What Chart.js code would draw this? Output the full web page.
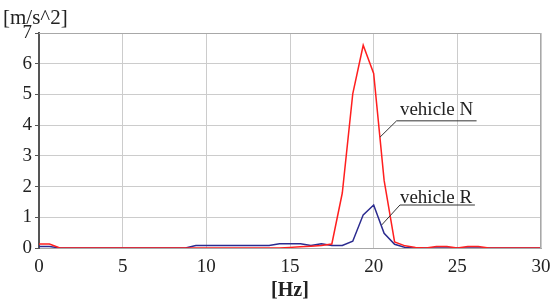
<!DOCTYPE html>
<html>
<head>
<meta charset="utf-8">
<script src="https://cdn.jsdelivr.net/npm/chart.js@4.4.0/dist/chart.umd.min.js"></script>
<style>
  html, body { margin: 0; padding: 0; background: #fff; }
  #wrap { width: 551px; height: 301px; position: relative; }
</style>
</head>
<body>
<div id="wrap"><canvas id="c"></canvas></div>
<script>
// frequency bins [Hz]
const freq = [0, 0.625, 1.25, 1.875, 2.5, 3.125, 3.75, 4.375, 5, 5.625, 6.25, 6.875,
  7.5, 8.125, 8.75, 9.375, 10, 10.625, 11.25, 11.875, 12.5, 13.125, 13.75, 14.375,
  15, 15.625, 16.25, 16.875, 17.5, 18.125, 18.75, 19.375, 20, 20.625, 21.25, 21.875,
  22.5, 23.125, 23.75, 24.375, 25, 25.625, 26.25, 26.875, 27.5, 28.125, 28.75, 29.375, 30];

// vehicle N (red)
const vehicleN = [0.13, 0.13, 0, 0, 0, 0, 0, 0, 0, 0, 0, 0,
  0, 0, 0, 0, 0, 0, 0, 0, 0, 0, 0, 0,
  0.02, 0.04, 0.06, 0.08, 0.13, 1.79, 5.02, 6.6, 5.68, 2.2, 0.2, 0.07,
  0.02, 0, 0.05, 0.05, 0, 0.05, 0.05, 0, 0, 0, 0, 0, 0];

// vehicle R (blue)
const vehicleR = [0.05, 0.05, 0, 0, 0, 0, 0, 0, 0, 0, 0, 0,
  0, 0, 0, 0.08, 0.08, 0.08, 0.08, 0.08, 0.08, 0.08, 0.08, 0.14,
  0.14, 0.14, 0.08, 0.14, 0.08, 0.08, 0.22, 1.08, 1.4, 0.48, 0.12, 0.02,
  0, 0, 0, 0, 0, 0, 0, 0, 0, 0, 0, 0, 0];

const xTicks = [0, 5, 10, 15, 20, 25, 30];
const yTicks = [0, 1, 2, 3, 4, 5, 6, 7];

// callout labels (data units): text pos, corner of leader, end on the curve, end of underline
const callouts = [
  { text: 'vehicle N', tx: 21.57, ty: 4.33, cx: 21.37, cy: 4.14, ex: 20.38, ey: 3.61, ux: 26.15 },
  { text: 'vehicle R', tx: 21.57, ty: 1.47, cx: 21.57, cy: 1.40, ex: 20.48, ey: 0.75, ux: 26.05 }
];

const serif = "'Liberation Serif', 'DejaVu Serif', serif";

const pairs = (xs, ys) => xs.map((x, i) => ({ x: x, y: ys[i] }));

// 단위 라벨과 콜아웃 그리기
const extras = {
  id: 'extras',
  afterDatasetsDraw(chart) {
    const ctx = chart.ctx;
    const xs = chart.scales.x, ys = chart.scales.y;
    const a = chart.chartArea;
    ctx.save();
    // frame top/right
    ctx.strokeStyle = '#a8a8a8';
    ctx.lineWidth = 1;
    ctx.beginPath();
    ctx.moveTo(a.left, a.top + 0.5);
    ctx.lineTo(a.right - 0.5, a.top + 0.5);
    ctx.lineTo(a.right - 0.5, a.bottom);
    ctx.stroke();

    ctx.font = '19px ' + serif;
    ctx.fillStyle = '#222';
    ctx.textBaseline = 'alphabetic';
    ctx.textAlign = 'left';
    callouts.forEach(c => {
      ctx.fillText(c.text, xs.getPixelForValue(c.tx), ys.getPixelForValue(c.ty));
      ctx.strokeStyle = '#333';
      ctx.lineWidth = 1;
      ctx.beginPath();
      ctx.moveTo(xs.getPixelForValue(c.ex), ys.getPixelForValue(c.ey));
      ctx.lineTo(xs.getPixelForValue(c.cx), ys.getPixelForValue(c.cy));
      ctx.lineTo(xs.getPixelForValue(c.ux), ys.getPixelForValue(c.cy));
      ctx.stroke();
    });

    // y unit
    ctx.font = '21px ' + serif;
    ctx.fillText('[m/s^2]', 3, 24);
    ctx.restore();
  }
};

new Chart(document.getElementById('c'), {
  type: 'line',
  data: {
    datasets: [
      {
        label: 'vehicle N',
        data: pairs(freq, vehicleN),
        borderColor: '#ff1f1f',
        borderWidth: 1.5,
        pointRadius: 0,
        tension: 0
      },
      {
        label: 'vehicle R',
        data: pairs(freq, vehicleR),
        borderColor: '#2b2b8f',
        borderWidth: 1.5,
        pointRadius: 0,
        tension: 0
      }
    ]
  },
  options: {
    responsive: true,
    maintainAspectRatio: false,
    animation: false,
    layout: { padding: { top: 33, right: 10, left: 0, bottom: 0 } },
    plugins: { legend: { display: false }, tooltip: { enabled: false } },
    scales: {
      x: {
        type: 'linear',
        min: 0,
        max: 30,
        afterBuildTicks: s => { s.ticks = xTicks.map(v => ({ value: v })); },
        ticks: { color: '#222', font: { family: serif, size: 19 }, padding: 8, maxRotation: 0 },
        grid: { color: '#cccccc', drawTicks: false },
        border: { color: '#a8a8a8' },
        title: {
          display: true,
          text: '[Hz]',
          color: '#222',
          font: { family: serif, size: 20, weight: 'bold', lineHeight: 1 },
          padding: { top: 0, bottom: 0 }
        },
        afterFit: s => { s.height = 53; s.paddingLeft = 0; s.paddingRight = 0; }
      },
      y: {
        min: 0,
        max: 7,
        afterBuildTicks: s => { s.ticks = yTicks.map(v => ({ value: v })); },
        ticks: { color: '#222', font: { family: serif, size: 19 }, padding: 3 },
        grid: { color: '#cccccc', tickLength: 4, tickColor: '#555' },
        border: { color: '#555', width: 2 },
        afterFit: s => { s.width = 39; s.paddingTop = 0; s.paddingBottom = 0; }
      }
    }
  },
  plugins: [extras]
});
</script>
</body>
</html>
